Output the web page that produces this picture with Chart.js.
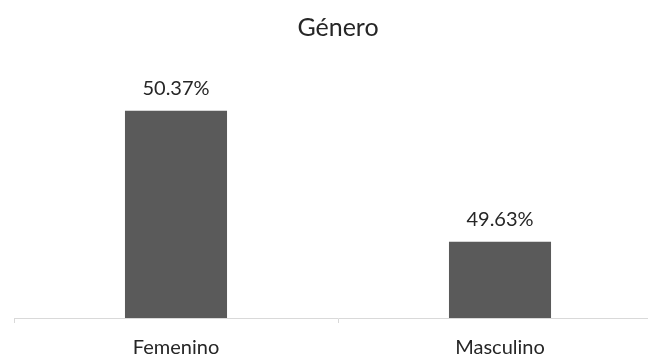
<!DOCTYPE html>
<html>
<head>
<meta charset="utf-8">
<script src="https://cdn.jsdelivr.net/npm/chart.js@4.4.0/dist/chart.umd.min.js"></script>
<style>
html,body{margin:0;padding:0;background:#fff;overflow:hidden;width:648px;height:358px;}
#wrap{position:absolute;left:0;top:0;width:676px;height:358px;}
</style>
</head>
<body>
<div id="wrap"><canvas id="c" width="676" height="358"></canvas></div>
<script>
const categories = ["Femenino", "Masculino"];
const values = [50.37, 49.63];
const valueLabels = ["50.37%", "49.63%"];
const chartTitle = "Género";

const labelPlugin = {
  id: 'valueLabels',
  afterDatasetsDraw(chart) {
    const ctx = chart.ctx;
    const meta = chart.getDatasetMeta(0);
    ctx.save();
    ctx.font = '20px Lato';
    ctx.fillStyle = '#262626';
    ctx.textAlign = 'center';
    ctx.textBaseline = 'alphabetic';
    meta.data.forEach((bar, i) => {
      ctx.fillText(valueLabels[i], bar.x, bar.y - 15.5);
    });
    ctx.restore();
  }
};

new Chart(document.getElementById('c'), {
  type: 'bar',
  data: {
    labels: categories,
    datasets: [{
      data: values,
      backgroundColor: '#5a5a5a',
      borderWidth: 0,
      categoryPercentage: 1,
      barPercentage: 0.315
    }]
  },
  options: {
    responsive: false,
    animation: false,
    devicePixelRatio: 1,
    layout: { padding: { left: 14, right: 14, top: 0, bottom: 0 } },
    plugins: {
      legend: { display: false },
      tooltip: { enabled: false },
      title: {
        display: true,
        text: chartTitle,
        color: '#262626',
        font: { family: 'Lato', size: 25, weight: 'normal' },
        padding: { top: 13, bottom: 27 }
      }
    },
    scales: {
      y: {
        display: false,
        min: 49.2,
        max: 50.6
      },
      x: {
        offset: true,
        afterFit(scale) { scale.height = 40; },
        grid: {
          offset: true,
          drawOnChartArea: false,
          drawTicks: true,
          tickLength: 5,
          color: '#d9d9d9'
        },
        border: { display: true, color: '#d9d9d9', width: 1 },
        ticks: {
          color: '#262626',
          font: { family: 'Lato', size: 20 },
          padding: 13
        }
      }
    }
  },
  plugins: [labelPlugin]
});
</script>
</body>
</html>
